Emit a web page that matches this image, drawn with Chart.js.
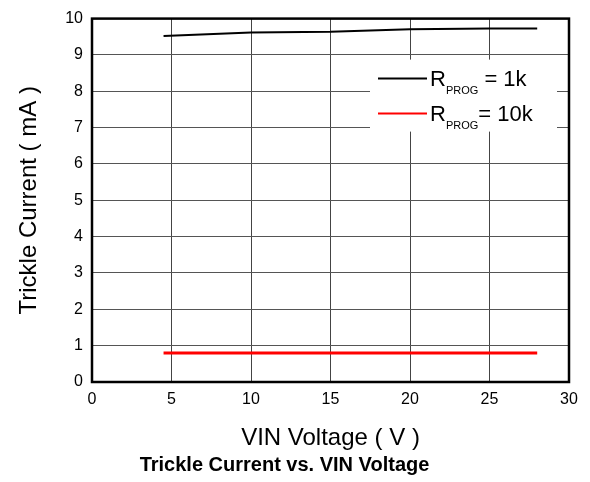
<!DOCTYPE html>
<html>
<head>
<meta charset="utf-8">
<script src="https://cdn.jsdelivr.net/npm/chart.js@4.4.1/dist/chart.umd.min.js"></script>
<style>
    html, body { margin: 0; padding: 0; background: #fff; }
    #wrap { width: 590px; height: 482px; }
</style>
</head>
<body>
<div id="wrap"><canvas id="trickleChart" width="590" height="482"></canvas></div>
<script>
// Chart data
const vinVoltage = [4.5, 10, 15, 20, 25, 28];
const current1k = [9.52, 9.62, 9.64, 9.71, 9.73, 9.73];
const current10k = [0.8, 0.8, 0.8, 0.8, 0.8, 0.8];
const xTicks = [0, 5, 10, 15, 20, 25, 30];
const yTicks = [0, 1, 2, 3, 4, 5, 6, 7, 8, 9, 10];
const legendMain = ['R', 'R'];
const legendSub = ['PROG', 'PROG'];
const legendTail = [' = 1k', '= 10k'];
const lineColors = ['#000000', '#ff0000'];

const FONT = 'Liberation Sans, Arial, Helvetica, sans-serif';

function toPoints(xs, ys) {
    return xs.map((x, i) => ({ x: x, y: ys[i] }));
}

// Frame around plot + legend with subscripts
const framePlugin = {
    id: 'frameAndLegend',
    afterDatasetsDraw(chart) {
        const ctx = chart.ctx;
        const a = chart.chartArea;
        ctx.save();

        // legend box
        const bx = a.right - 199, by = a.top + 41;
        ctx.fillStyle = '#fff';
        ctx.fillRect(bx, by, 187, 72);

        chart.data.datasets.forEach((ds, i) => {
            const rowY = by + 19 + i * 35;
            ctx.strokeStyle = ds.borderColor;
            ctx.lineWidth = 2;
            ctx.beginPath();
            ctx.moveTo(bx + 8, rowY);
            ctx.lineTo(bx + 57, rowY);
            ctx.stroke();

            ctx.fillStyle = '#000';
            ctx.textBaseline = 'alphabetic';
            ctx.textAlign = 'left';
            ctx.font = '22px ' + FONT;
            const base = rowY + 7;
            let tx = bx + 60;
            ctx.fillText(legendMain[i], tx, base);
            tx += ctx.measureText(legendMain[i]).width;
            ctx.font = '11px ' + FONT;
            ctx.fillText(legendSub[i], tx, base + 8);
            tx += ctx.measureText(legendSub[i]).width;
            ctx.font = '22px ' + FONT;
            ctx.fillText(legendTail[i], tx, base);
        });

        // plot frame
        ctx.strokeStyle = '#000';
        ctx.lineWidth = 2.5;
        ctx.strokeRect(a.left, a.top, a.right - a.left, a.bottom - a.top);
        ctx.restore();
    }
};

const ctx = document.getElementById('trickleChart').getContext('2d');
new Chart(ctx, {
    type: 'line',
    data: {
        datasets: [{
            label: 'RPROG = 1k',
            data: toPoints(vinVoltage, current1k),
            borderColor: lineColors[0],
            borderWidth: 2,
            pointRadius: 0,
            tension: 0,
            fill: false
        }, {
            label: 'RPROG = 10k',
            data: toPoints(vinVoltage, current10k),
            borderColor: lineColors[1],
            borderWidth: 3,
            pointRadius: 0,
            tension: 0,
            fill: false
        }]
    },
    options: {
        responsive: false,
        animation: false,
        devicePixelRatio: 1,
        layout: {
            padding: { left: 0, right: 21, top: 14, bottom: 0 }
        },
        plugins: {
            legend: { display: false },
            tooltip: { enabled: false },
            title: {
                display: true,
                position: 'bottom',
                text: 'Trickle Current vs. VIN Voltage',
                color: '#000',
                font: { family: FONT, size: 20, weight: 'bold', lineHeight: 1.2 },
                padding: { top: 3, bottom: 5 }
            }
        },
        scales: {
            x: {
                type: 'linear',
                min: 0,
                max: 30,
                afterBuildTicks: function(scale) {
                    scale.ticks = xTicks.map(v => ({ value: v }));
                },
                afterFit: function(scale) { scale.height = 68; },
                grid: { color: '#444', lineWidth: 1, drawTicks: false },
                border: { display: false },
                ticks: {
                    color: '#000',
                    padding: 8,
                    maxRotation: 0,
                    font: { family: FONT, size: 16 }
                },
                title: {
                    display: true,
                    text: 'VIN Voltage ( V )',
                    color: '#000',
                    font: { family: FONT, size: 24, lineHeight: 1 },
                    padding: { top: 1, bottom: 0 }
                }
            },
            y: {
                min: 0,
                max: 10,
                afterBuildTicks: function(scale) {
                    scale.ticks = yTicks.map(v => ({ value: v }));
                },
                afterFit: function(scale) { scale.width = 92; },
                grid: { color: '#555', lineWidth: 1, drawTicks: false },
                border: { display: false },
                ticks: {
                    color: '#000',
                    padding: 9,
                    font: { family: FONT, size: 16 }
                },
                title: {
                    display: true,
                    text: 'Trickle Current ( mA )',
                    color: '#000',
                    font: { family: FONT, size: 24, lineHeight: 1 },
                    padding: { top: 17, bottom: 0 }
                }
            }
        }
    },
    plugins: [framePlugin]
});
</script>
</body>
</html>
